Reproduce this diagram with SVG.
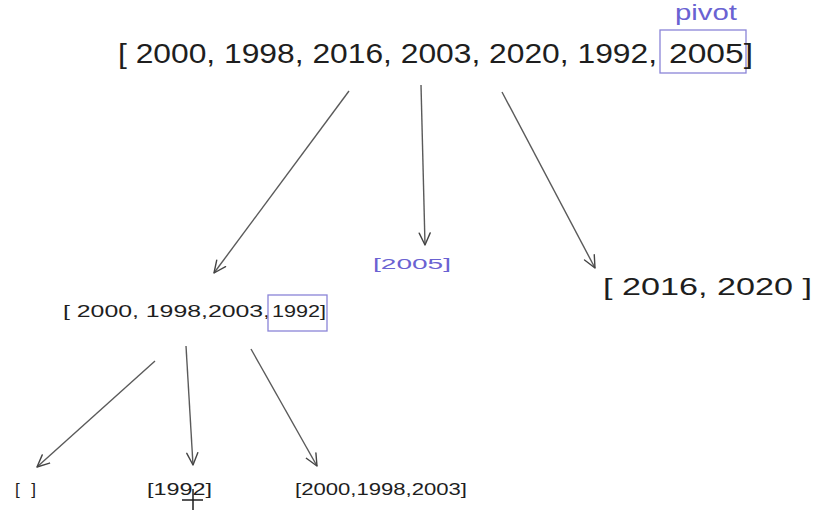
<svg xmlns="http://www.w3.org/2000/svg" width="821" height="520" viewBox="0 0 821 520">
  <style>
    .t { font-family: "Liberation Sans", "DejaVu Sans", sans-serif; fill: #1e1e1e; }
    .p { font-family: "Liberation Sans", "DejaVu Sans", sans-serif; fill: #6a62d2; }
    .box { fill: none; stroke: #8a84d8; stroke-width: 1.3; }
    .edge { fill: none; stroke: #5a5a5a; stroke-width: 1.4; marker-end: url(#ah); }
  </style>
  <defs>
    <marker id="ah" viewBox="0 0 14 14" refX="13" refY="7" markerWidth="14" markerHeight="14" markerUnits="userSpaceOnUse" orient="auto">
      <path d="M1,1.5 L13,7 L1,12.5" fill="none" stroke="#444" stroke-width="1.4" stroke-linecap="round" stroke-linejoin="round"/>
    </marker>
  </defs>
  <rect width="821" height="520" fill="#ffffff"/>

  <g id="root">
    <text class="t" x="118" y="63" font-size="28" textLength="539" lengthAdjust="spacingAndGlyphs">[ 2000, 1998, 2016, 2003, 2020, 1992,</text>
    <rect class="box" x="660" y="30" width="86" height="43"/>
    <text class="t" x="669" y="63" font-size="28" textLength="84" lengthAdjust="spacingAndGlyphs">2005]</text>
    <text class="p" x="675" y="20" font-size="22" textLength="62" lengthAdjust="spacingAndGlyphs">pivot</text>
  </g>

  <g id="left">
    <text class="t" x="63" y="317" font-size="17" textLength="207" lengthAdjust="spacingAndGlyphs">[ 2000, 1998,2003,</text>
    <rect class="box" x="268" y="295" width="59" height="36"/>
    <text class="t" x="272" y="317" font-size="17" textLength="54" lengthAdjust="spacingAndGlyphs">1992]</text>
  </g>

  <g id="middle">
    <text class="p" x="373" y="269" font-size="15" textLength="78" lengthAdjust="spacingAndGlyphs">[2005]</text>
  </g>

  <g id="right">
    <text class="t" x="603" y="295" font-size="24" textLength="209" lengthAdjust="spacingAndGlyphs">[ 2016, 2020 ]</text>
  </g>

  <g id="ll">
    <text class="t" x="15" y="495" font-size="17" textLength="21" lengthAdjust="spacing">[]</text>
  </g>
  <g id="lm">
    <text class="t" x="147" y="495" font-size="17" textLength="65" lengthAdjust="spacingAndGlyphs">[1992]</text>
  </g>
  <g id="lr">
    <text class="t" x="295" y="495" font-size="17" textLength="172" lengthAdjust="spacingAndGlyphs">[2000,1998,2003]</text>
  </g>

  <g id="connectors">
    <line class="edge" x1="349" y1="91" x2="214" y2="273"/>
    <line class="edge" x1="421" y1="85" x2="425" y2="245"/>
    <line class="edge" x1="502" y1="92" x2="595" y2="268"/>
    <line class="edge" x1="155" y1="361" x2="37" y2="467"/>
    <line class="edge" x1="186" y1="346" x2="193" y2="465"/>
    <line class="edge" x1="251" y1="349" x2="317" y2="466"/>
  </g>

  <g id="cursor">
    <line x1="193" y1="489" x2="193" y2="510" stroke="#1e1e1e" stroke-width="1.5"/>
    <line x1="182" y1="500" x2="203" y2="500" stroke="#1e1e1e" stroke-width="1.5"/>
  </g>
</svg>
